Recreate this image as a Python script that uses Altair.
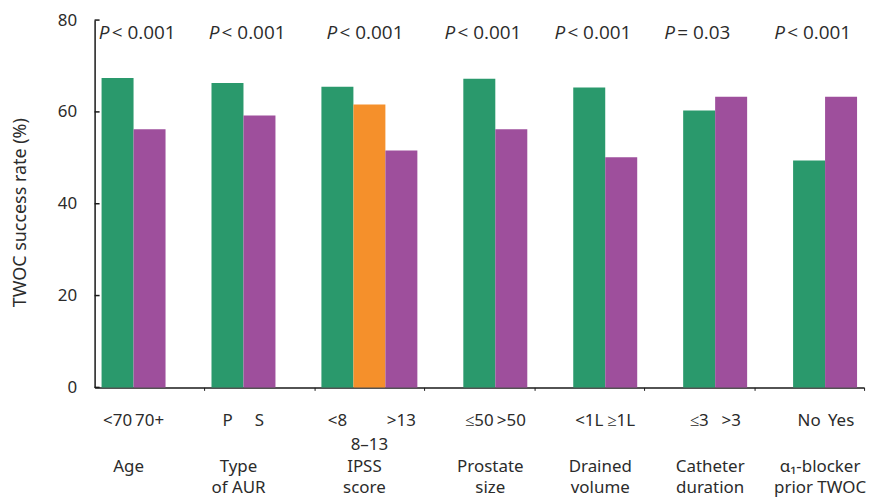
import altair as alt
import pandas as pd

# ---- data ----
groups = ["Age", "Type\nof AUR", "IPSS\nscore", "Prostate\nsize",
          "Drained\nvolume", "Catheter\nduration", "α₁-blocker\nprior TWOC"]
p_values = ["< 0.001", "< 0.001", "< 0.001", "< 0.001", "< 0.001", "= 0.03", "< 0.001"]

bar_group = [0, 0, 1, 1, 2, 2, 2, 3, 3, 4, 4, 5, 5, 6, 6]
bar_slot = [0, 1, 0, 1, 0, 1, 2, 1, 2, 1, 2, 1, 2, 1, 2]
bar_labels = ["<70", "70+", "P", "S", "<8", "8–13", ">13", "≤50", ">50",
              "<1L", "≥1L", "≤3", ">3", "No", "Yes"]
bar_values = [67.4, 56.2, 66.3, 59.2, 65.5, 61.6, 51.6, 67.2, 56.2,
              65.3, 50.1, 60.3, 63.3, 49.4, 63.3]
bar_series = ["first", "second", "first", "second", "first", "middle", "second",
              "first", "second", "first", "second", "first", "second", "first", "second"]
y_ticks = [0, 20, 40, 60, 80]
group_bounds = [1, 2, 3, 4, 5, 6, 7]

series_domain = ["first", "middle", "second"]
series_colors = ["#2a996c", "#f5902b", "#9e4f9c"]

# ---- layout constants (in band units, one band per group) ----
BAND_PAD = 7 / 110.43
SLOT = 32.13 / 110.43

bars = pd.DataFrame(dict(group=bar_group, slot=bar_slot, label=bar_labels,
                         value=bar_values, series=bar_series))
bars["x0"] = bars["group"] + BAND_PAD + bars["slot"] * SLOT
bars["x1"] = bars["x0"] + SLOT
bars["xc"] = (bars["x0"] + bars["x1"]) / 2

cent = bars.groupby("group").agg(xmin=("x0", "min"), xmax=("x1", "max")).reset_index()
cent["xc"] = (cent["xmin"] + cent["xmax"]) / 2
grp = pd.DataFrame(dict(group=list(range(len(groups))), name=groups, p=p_values)).merge(cent, on="group")
grp["xp"] = (grp["group"] + 0.5 + grp["xc"]) / 2
grp["line1"] = grp["name"].str.split("\n").str[0]
grp["line2"] = grp["name"].str.split("\n").str[1]

# text layers share the x field name of the bar layer so the axis merges cleanly
lab = bars[["label", "xc"]].rename(columns={"xc": "x0"})
grp_t = grp[["line1", "line2", "xc"]].rename(columns={"xc": "x0"})
p_t = grp[["p", "xp"]].rename(columns={"xp": "x0"})

FONT = "Noto Sans"
PFONT = "Open Sans"
TXT = "#2b2b2b"
AX = "#1a1a1a"

xs = alt.Scale(domain=[0, 7], nice=False, zero=False)
ys = alt.Scale(domain=[0, 80], nice=False)
X = alt.X("x0:Q", scale=xs, title="")

bar_layer = alt.Chart(bars).mark_bar().encode(
    x=alt.X("x0:Q", scale=xs,
            axis=alt.Axis(values=group_bounds, labels=False, title="", tickSize=3,
                          tickColor=AX, tickWidth=1, domainColor=AX, domainWidth=1.5,
                          grid=False)),
    x2="x1:Q",
    y=alt.Y("value:Q", scale=ys,
            axis=alt.Axis(values=y_ticks, ticks=False, labelPadding=18, labelFontSize=17,
                          labelFont=FONT, labelColor=TXT, title="TWOC success rate (%)",
                          titleFont=FONT, titleFontSize=18, titleFontWeight="normal",
                          titleColor=TXT, titleX=-65, titleY=193, titleAlign="center",
                          titleBaseline="bottom", grid=False, domainColor=AX,
                          domainWidth=1.5)),
    y2=alt.datum(0),
    color=alt.Color("series:N", scale=alt.Scale(domain=series_domain, range=series_colors),
                    legend=None),
)

tick_layer = alt.Chart(pd.DataFrame({"value": y_ticks})).mark_rule(
    color=AX, strokeWidth=1.5).encode(
    y=alt.Y("value:Q", scale=ys, title="TWOC success rate (%)"),
    x=alt.value(0), x2=alt.value(5),
)

p_italic = alt.Chart(p_t).mark_text(
    align="left", baseline="middle", dx=-43, fontStyle="italic", fontSize=19,
    font=PFONT, color=TXT).encode(x=X, y=alt.value(13), text=alt.value("P"))

p_rest = alt.Chart(p_t).mark_text(
    align="left", baseline="middle", dx=-30, fontSize=19, font=PFONT, color=TXT).encode(
    x=X, y=alt.value(13), text="p:N")

cat_layer = alt.Chart(lab).transform_filter("datum.label != '8–13'").mark_text(
    align="center", baseline="middle", fontSize=17, font=FONT, color=TXT).encode(
    x=X, y=alt.value(403), text="label:N")

cat_layer2 = alt.Chart(lab).transform_filter("datum.label == '8–13'").mark_text(
    align="center", baseline="middle", fontSize=17, font=FONT, color=TXT).encode(
    x=X, y=alt.value(427), text="label:N")

grp_layer1 = alt.Chart(grp_t).mark_text(
    align="center", baseline="middle", dx=-5, fontSize=17, font=FONT, color=TXT).encode(
    x=X, y=alt.value(449), text="line1:N")

grp_layer2 = alt.Chart(grp_t).transform_filter("datum.line2 != null").mark_text(
    align="center", baseline="middle", dx=-5, fontSize=17, font=FONT, color=TXT).encode(
    x=X, y=alt.value(470), text="line2:N")

chart = alt.layer(bar_layer, tick_layer, p_italic, p_rest, cat_layer, cat_layer2,
                  grp_layer1, grp_layer2).properties(
    width=773, height=369,
    autosize=alt.AutoSizeParams(type="none"),
    padding={"left": 87, "top": 11, "right": 15, "bottom": 112},
).configure_view(stroke=None)

chart.save("out.html", embed_options={"renderer": "svg", "actions": False})
